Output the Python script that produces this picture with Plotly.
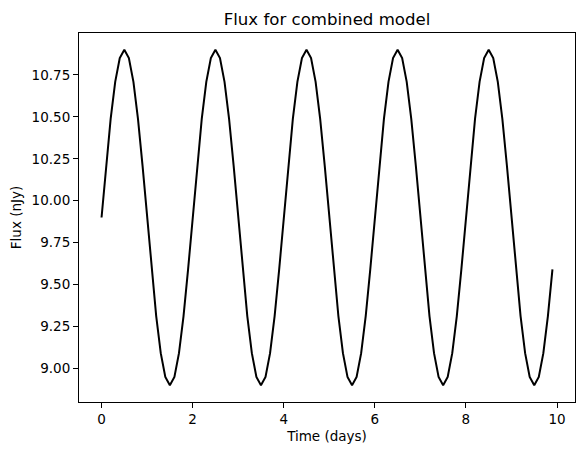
import plotly.graph_objects as go

# time samples (days)
time_days = [
    0.0, 0.1, 0.2, 0.3, 0.4, 0.5, 0.6, 0.7, 0.8, 0.9,
    1.0, 1.1, 1.2, 1.3, 1.4, 1.5, 1.6, 1.7, 1.8, 1.9,
    2.0, 2.1, 2.2, 2.3, 2.4, 2.5, 2.6, 2.7, 2.8, 2.9,
    3.0, 3.1, 3.2, 3.3, 3.4, 3.5, 3.6, 3.7, 3.8, 3.9,
    4.0, 4.1, 4.2, 4.3, 4.4, 4.5, 4.6, 4.7, 4.8, 4.9,
    5.0, 5.1, 5.2, 5.3, 5.4, 5.5, 5.6, 5.7, 5.8, 5.9,
    6.0, 6.1, 6.2, 6.3, 6.4, 6.5, 6.6, 6.7, 6.8, 6.9,
    7.0, 7.1, 7.2, 7.3, 7.4, 7.5, 7.6, 7.7, 7.8, 7.9,
    8.0, 8.1, 8.2, 8.3, 8.4, 8.5, 8.6, 8.7, 8.8, 8.9,
    9.0, 9.1, 9.2, 9.3, 9.4, 9.5, 9.6, 9.7, 9.8, 9.9,
]

# flux values (nJy)
flux = [
    9.900, 10.209, 10.488, 10.709, 10.851, 10.900, 10.851, 10.709, 10.488, 10.209,
    9.900, 9.591, 9.312, 9.091, 8.949, 8.900, 8.949, 9.091, 9.312, 9.591,
    9.900, 10.209, 10.488, 10.709, 10.851, 10.900, 10.851, 10.709, 10.488, 10.209,
    9.900, 9.591, 9.312, 9.091, 8.949, 8.900, 8.949, 9.091, 9.312, 9.591,
    9.900, 10.209, 10.488, 10.709, 10.851, 10.900, 10.851, 10.709, 10.488, 10.209,
    9.900, 9.591, 9.312, 9.091, 8.949, 8.900, 8.949, 9.091, 9.312, 9.591,
    9.900, 10.209, 10.488, 10.709, 10.851, 10.900, 10.851, 10.709, 10.488, 10.209,
    9.900, 9.591, 9.312, 9.091, 8.949, 8.900, 8.949, 9.091, 9.312, 9.591,
    9.900, 10.209, 10.488, 10.709, 10.851, 10.900, 10.851, 10.709, 10.488, 10.209,
    9.900, 9.591, 9.312, 9.091, 8.949, 8.900, 8.949, 9.091, 9.312, 9.591,
]

x_ticks = [0, 2, 4, 6, 8, 10]
y_ticks = [9.00, 9.25, 9.50, 9.75, 10.00, 10.25, 10.50, 10.75]

fig = go.Figure()
fig.add_trace(go.Scatter(x=time_days, y=flux, mode="lines",
                         line=dict(color="black", width=2)))

axis_style = dict(showline=True, linecolor="black", linewidth=1.1, mirror=True,
                  ticks="outside", ticklen=5, tickwidth=1.1, tickcolor="black",
                  showgrid=False, zeroline=False, automargin=False,
                  tickfont=dict(family="DejaVu Sans", size=13.5, color="black"))

fig.update_xaxes(range=[-0.495, 10.395], tickvals=x_ticks,
                 title=dict(text="Time (days)", standoff=5,
                            font=dict(family="DejaVu Sans", size=13.5, color="black")),
                 **axis_style)
fig.update_yaxes(range=[8.8, 11.0], tickvals=y_ticks, tickformat=".2f",
                 title=dict(text="Flux (nJy)", standoff=11,
                            font=dict(family="DejaVu Sans", size=13.5, color="black")),
                 **axis_style)

# the page body adds an 8px offset, so the figure is 8px smaller each way
fig.update_layout(
    width=576, height=447,
    margin=dict(l=71, r=9, t=25, b=53),
    plot_bgcolor="white", paper_bgcolor="white",
    showlegend=False,
    title=dict(text="Flux for combined model", x=0.5, xref="paper",
               y=1, yref="paper", yanchor="bottom", pad=dict(b=8),
               font=dict(family="DejaVu Sans", size=16.6, color="black")),
)

fig.write_html("out.html")
